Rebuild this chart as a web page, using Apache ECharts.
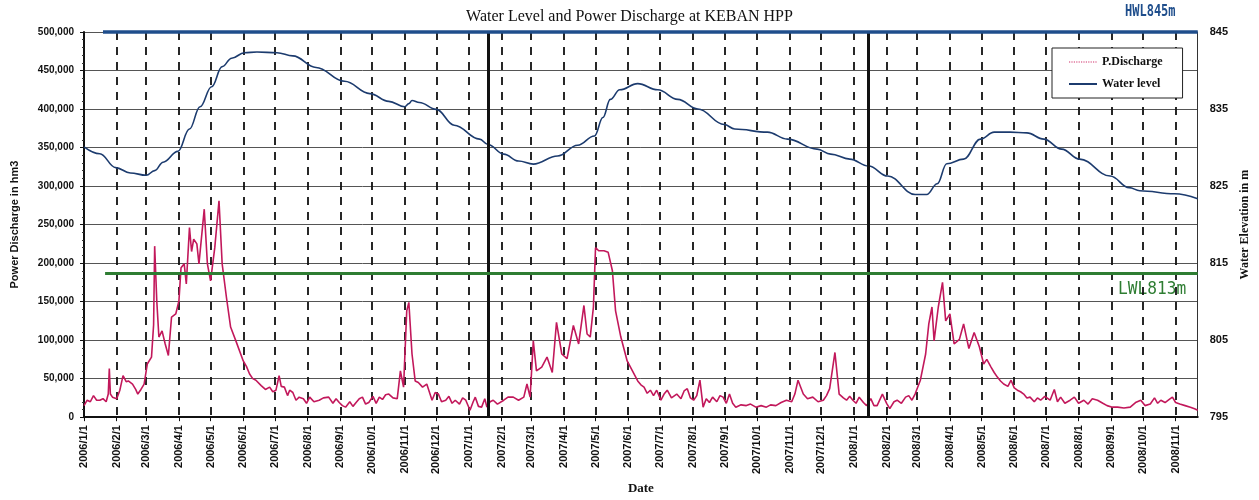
<!DOCTYPE html>
<html>
<head>
<meta charset="utf-8">
<script src="https://cdn.jsdelivr.net/npm/echarts@6/dist/echarts.min.js"></script>
<style>html,body{margin:0;padding:0;background:#fff;}#main{width:1259px;height:500px;}</style>
</head>
<body>
<div id="main"></div>
<script>
// ---- data ----
const startDate = '2006/1/1';
const endDate = '2008/11/22';
const leftTicks = [0, 50000, 100000, 150000, 200000, 250000, 300000, 350000, 400000, 450000, 500000];
const rightTicks = [795, 805, 815, 825, 835, 845];
const yearMarks = ['2007/1/19', '2008/1/15'];
const hwlLevel = 845;
const lwlLevel = 813.7;
const refLineStart = ['2006/1/19', '2006/1/21'];

const waterDates = ['2006/1/1','2006/1/16','2006/1/31','2006/2/14','2006/3/1','2006/3/9','2006/3/17','2006/3/31','2006/4/11','2006/4/21','2006/5/2','2006/5/12','2006/5/21','2006/6/2','2006/6/14','2006/7/3','2006/7/18','2006/8/9','2006/9/5','2006/9/29','2006/10/17','2006/11/1','2006/11/5','2006/11/8','2006/11/15','2006/12/1','2006/12/18','2007/1/11','2007/1/19','2007/2/3','2007/2/17','2007/3/3','2007/3/26','2007/4/14','2007/4/30','2007/5/8','2007/5/15','2007/5/24','2007/6/10','2007/6/29','2007/7/18','2007/8/6','2007/8/31','2007/9/10','2007/10/11','2007/10/30','2007/11/27','2007/12/10','2007/12/28','2008/1/15','2008/2/2','2008/2/28','2008/3/10','2008/3/20','2008/3/29','2008/4/14','2008/4/30','2008/5/13','2008/5/28','2008/6/13','2008/6/29','2008/7/16','2008/8/2','2008/8/31','2008/9/18','2008/9/28','2008/10/31','2008/11/22'];
const waterLevel = [830.1,829.2,827.4,826.7,826.4,827.0,828.1,829.5,832.4,835.3,837.9,840.5,841.6,842.3,842.4,842.3,841.9,840.4,838.6,837.0,836.0,835.3,835.7,836.1,835.85,834.95,832.9,831.1,830.4,829.15,828.25,827.85,828.9,830.3,831.5,833.9,836.25,837.5,838.3,837.5,836.25,835.0,833.0,832.4,832.0,831.1,829.8,829.15,828.5,827.6,826.3,823.9,823.9,825.3,827.9,828.5,831.1,832.0,832.0,831.9,831.1,829.8,828.5,826.3,824.8,824.4,824.0,823.35];

const dischargeDates = ['2006/1/1','2006/1/4','2006/1/7','2006/1/10','2006/1/13','2006/1/16','2006/1/19','2006/1/22','2006/1/24','2006/1/25','2006/1/26','2006/1/28','2006/2/1','2006/2/4','2006/2/7','2006/2/10','2006/2/12','2006/2/16','2006/2/19','2006/2/21','2006/2/24','2006/2/27','2006/3/2','2006/3/6','2006/3/8','2006/3/9','2006/3/11','2006/3/13','2006/3/16','2006/3/19','2006/3/22','2006/3/25','2006/3/29','2006/4/1','2006/4/3','2006/4/6','2006/4/8','2006/4/11','2006/4/13','2006/4/15','2006/4/18','2006/4/20','2006/4/25','2006/4/28','2006/5/1','2006/5/5','2006/5/9','2006/5/12','2006/5/16','2006/5/20','2006/5/25','2006/6/1','2006/6/4','2006/6/7','2006/6/10','2006/6/13','2006/6/18','2006/6/22','2006/6/26','2006/6/29','2006/7/2','2006/7/5','2006/7/7','2006/7/10','2006/7/13','2006/7/15','2006/7/18','2006/7/21','2006/7/24','2006/7/28','2006/7/31','2006/8/3','2006/8/7','2006/8/12','2006/8/16','2006/8/21','2006/8/25','2006/8/28','2006/8/31','2006/9/3','2006/9/6','2006/9/10','2006/9/13','2006/9/16','2006/9/19','2006/9/22','2006/9/25','2006/9/28','2006/10/2','2006/10/5','2006/10/8','2006/10/11','2006/10/14','2006/10/17','2006/10/21','2006/10/25','2006/10/28','2006/10/31','2006/11/3','2006/11/5','2006/11/8','2006/11/11','2006/11/14','2006/11/18','2006/11/22','2006/11/27','2006/11/30','2006/12/3','2006/12/6','2006/12/10','2006/12/13','2006/12/16','2006/12/19','2006/12/23','2006/12/26','2006/12/29','2007/1/2','2007/1/5','2007/1/7','2007/1/10','2007/1/13','2007/1/16','2007/1/18','2007/1/21','2007/1/24','2007/1/28','2007/2/3','2007/2/7','2007/2/12','2007/2/17','2007/2/22','2007/2/25','2007/2/28','2007/3/3','2007/3/6','2007/3/11','2007/3/16','2007/3/21','2007/3/25','2007/3/30','2007/4/4','2007/4/10','2007/4/15','2007/4/20','2007/4/23','2007/4/26','2007/4/29','2007/5/1','2007/5/4','2007/5/9','2007/5/13','2007/5/17','2007/5/20','2007/5/25','2007/5/31','2007/6/5','2007/6/10','2007/6/13','2007/6/16','2007/6/19','2007/6/22','2007/6/25','2007/6/28','2007/7/2','2007/7/5','2007/7/8','2007/7/12','2007/7/17','2007/7/21','2007/7/24','2007/7/27','2007/7/30','2007/8/2','2007/8/5','2007/8/8','2007/8/11','2007/8/14','2007/8/17','2007/8/20','2007/8/24','2007/8/27','2007/8/30','2007/9/2','2007/9/5','2007/9/8','2007/9/11','2007/9/16','2007/9/21','2007/9/25','2007/9/30','2007/10/5','2007/10/10','2007/10/14','2007/10/19','2007/10/24','2007/10/29','2007/11/3','2007/11/6','2007/11/9','2007/11/14','2007/11/18','2007/11/23','2007/11/28','2007/12/3','2007/12/6','2007/12/9','2007/12/14','2007/12/18','2007/12/22','2007/12/25','2007/12/28','2007/12/31','2008/1/3','2008/1/6','2008/1/10','2008/1/13','2008/1/17','2008/1/20','2008/1/23','2008/1/28','2008/2/1','2008/2/4','2008/2/8','2008/2/11','2008/2/15','2008/2/19','2008/2/22','2008/2/25','2008/2/28','2008/3/4','2008/3/9','2008/3/12','2008/3/15','2008/3/17','2008/3/21','2008/3/25','2008/3/28','2008/4/1','2008/4/5','2008/4/10','2008/4/14','2008/4/19','2008/4/24','2008/4/29','2008/5/3','2008/5/6','2008/5/10','2008/5/13','2008/5/16','2008/5/19','2008/5/22','2008/5/26','2008/5/29','2008/6/1','2008/6/4','2008/6/7','2008/6/10','2008/6/13','2008/6/16','2008/6/20','2008/6/23','2008/6/26','2008/6/30','2008/7/5','2008/7/9','2008/7/12','2008/7/15','2008/7/19','2008/7/24','2008/7/28','2008/8/1','2008/8/6','2008/8/10','2008/8/14','2008/8/19','2008/8/24','2008/8/28','2008/9/2','2008/9/7','2008/9/13','2008/9/19','2008/9/24','2008/9/29','2008/10/3','2008/10/8','2008/10/12','2008/10/15','2008/10/18','2008/10/22','2008/10/26','2008/10/29','2008/11/1','2008/11/5','2008/11/10','2008/11/15','2008/11/19','2008/11/22'];
const discharge = [15000,22000,20000,28000,22000,22000,24000,20000,30000,63000,30000,26000,24000,35000,54000,46000,47000,43000,36000,30000,36000,43000,69000,78000,120000,222000,151000,104000,112000,95000,80000,130000,134000,151000,194000,199000,173000,246000,215000,231000,225000,199000,270000,199000,177000,220000,281000,199000,156000,117000,99000,73000,66000,56000,50000,48000,41000,36000,39000,33000,35000,54000,40000,39000,28000,35000,32000,22000,26000,24000,18000,26000,20000,22000,25000,26000,18000,24000,19000,15000,13000,20000,14000,19000,24000,26000,17000,19000,27000,18000,26000,23000,29000,30000,25000,24000,60000,39000,138000,149000,82000,47000,45000,39000,43000,22000,32000,30000,20000,22000,27000,18000,22000,17000,25000,22000,9000,20000,26000,14000,13000,24000,13000,20000,22000,17000,22000,26000,26000,22000,26000,43000,26000,99000,60000,65000,78000,58000,123000,82000,76000,119000,95000,145000,108000,104000,143000,220000,216000,216000,214000,190000,138000,104000,73000,60000,47000,42000,39000,31000,35000,28000,35000,22000,30000,35000,25000,30000,24000,34000,37000,25000,22000,28000,48000,13000,24000,19000,26000,20000,28000,26000,18000,30000,18000,13000,16000,15000,17000,13000,15000,13000,16000,15000,19000,22000,20000,30000,48000,30000,24000,26000,20000,22000,28000,37000,84000,30000,25000,22000,27000,22000,18000,26000,19000,15000,24000,15000,15000,30000,18000,11000,20000,22000,18000,26000,28000,22000,30000,48000,82000,121000,143000,99000,143000,175000,125000,134000,95000,101000,121000,89000,110000,91000,69000,75000,65000,58000,52000,47000,43000,40000,48000,38000,35000,33000,30000,25000,26000,20000,25000,22000,27000,22000,36000,20000,26000,18000,22000,26000,18000,22000,17000,24000,22000,18000,15000,13000,13000,12000,13000,19000,22000,15000,17000,25000,18000,22000,19000,23000,26000,19000,17000,15000,13000,11000,9000];

// ---- daily category axis ----
function parseD(s){const p=s.split('/').map(Number);return Date.UTC(p[0],p[1]-1,p[2]);}
function fmtD(t){const d=new Date(t);return d.getUTCFullYear()+'/'+(d.getUTCMonth()+1)+'/'+d.getUTCDate();}
const categories = [];
for (let t = parseD(startDate); t <= parseD(endDate); t += 86400000) categories.push(fmtD(t));
const isMonthStart = v => v.split('/')[2] === '1';

const waterData = waterDates.map((d, i) => [d, waterLevel[i]]);
const dischargeData = dischargeDates.map((d, i) => [d, discharge[i]]);

const chart = echarts.init(document.getElementById('main'), null, {renderer: 'canvas'});
const sans = 'Liberation Sans';
const serif = 'Liberation Serif';
chart.setOption({
  animation: false,
  backgroundColor: '#fff',
  title: {
    text: 'Water Level and Power Discharge at KEBAN HPP',
    left: 'center', top: 4,
    textStyle: {fontFamily: serif, fontSize: 16, fontWeight: 'normal', color: '#111'}
  },
  grid: {left: 84, right: 58, top: 32, bottom: 80},
  legend: {
    orient: 'vertical', left: 1052, top: 48,
    backgroundColor: '#fff', borderColor: '#222', borderWidth: 1,
    padding: [8, 20, 8, 16], itemGap: 10, itemWidth: 28, itemHeight: 12,
    textStyle: {fontFamily: serif, fontWeight: 'bold', fontSize: 12, color: '#111'},
    data: [
      {name: 'P.Discharge', itemStyle: {opacity: 0}, lineStyle: {type: 'dotted', width: 1.2, color: '#d0306a'}},
      {name: 'Water level', itemStyle: {opacity: 0}, lineStyle: {width: 2}}
    ]
  },
  xAxis: {
    type: 'category', data: categories, boundaryGap: false,
    name: 'Date', nameLocation: 'middle', nameGap: 64,
    nameTextStyle: {fontFamily: serif, fontWeight: 'bold', fontSize: 13, color: '#111'},
    axisLine: {lineStyle: {color: '#111', width: 2}},
    axisTick: {show: true, interval: (i, v) => isMonthStart(v), length: 4, lineStyle: {color: '#111'}},
    axisLabel: {
      interval: (i, v) => isMonthStart(v), rotate: 90, margin: 8,
      fontFamily: sans, fontWeight: 'bold', fontSize: 11, color: '#111'
    },
    splitLine: {
      show: true, interval: (i, v) => isMonthStart(v) && i > 0,
      lineStyle: {color: '#111', type: [8, 7], width: 1.8}
    }
  },
  yAxis: [
    {
      type: 'value', min: 0, max: 500000, interval: 50000,
      name: 'Power Discharge in hm3', nameLocation: 'middle', nameGap: 64, nameRotate: 90,
      nameTextStyle: {fontFamily: sans, fontWeight: 'bold', fontSize: 11, color: '#111'},
      axisLine: {show: true, lineStyle: {color: '#111', width: 2}},
      axisTick: {show: true, length: 4, lineStyle: {color: '#111'}},
      minorTick: {show: true, splitNumber: 5, length: 2, lineStyle: {color: '#333'}},
      axisLabel: {fontFamily: sans, fontWeight: 'bold', fontSize: 10, color: '#111', margin: 10,
        formatter: v => v.toLocaleString('en-US')},
      splitLine: {show: true, lineStyle: {color: '#555', width: 1}}
    },
    {
      type: 'value', min: 795, max: 845, interval: 10, position: 'right',
      name: 'Water Elevation in m', nameLocation: 'middle', nameGap: 40, nameRotate: 90,
      nameTextStyle: {fontFamily: serif, fontWeight: 'bold', fontSize: 12, color: '#111'},
      axisLine: {show: true, lineStyle: {color: '#333', width: 1}},
      axisTick: {show: false},
      axisLabel: {fontFamily: sans, fontWeight: 'bold', fontSize: 11, color: '#111', margin: 12},
      splitLine: {show: false}
    }
  ],
  graphic: [
    {type: 'text', left: 1125, top: 4, style: {text: 'HWL845m', fill: '#1f4e8c', font: 'bold 16px "DejaVu Sans Mono"'}, scaleX: 0.75},
    {type: 'text', left: 1118, top: 280, style: {text: 'LWL813m', fill: '#2e7d32', font: '18px "DejaVu Sans Mono"'}, scaleX: 0.9}
  ],
  series: [
    {
      name: 'P.Discharge', type: 'line', yAxisIndex: 0, symbol: 'none',
      data: dischargeData,
      lineStyle: {color: '#c2185b', width: 1.6},
      itemStyle: {color: '#c2185b'},
      z: 3,
      markLine: {
        silent: true, symbol: 'none', label: {show: false},
        lineStyle: {color: '#111', width: 3, type: 'solid'},
        data: yearMarks.map(d => ({xAxis: d}))
      }
    },
    {
      name: 'Water level', type: 'line', yAxisIndex: 1, symbol: 'none',
      data: waterData, smooth: 0.4, smoothMonotone: 'x',
      lineStyle: {color: '#1c3b6e', width: 1.6},
      itemStyle: {color: '#1c3b6e'},
      z: 4,
      markLine: {
        silent: true, symbol: 'none', label: {show: false},
        data: [
          [{coord: [refLineStart[0], hwlLevel], lineStyle: {color: '#1f4e8c', width: 3.5, type: 'solid'}}, {coord: [endDate, hwlLevel]}],
          [{coord: [refLineStart[1], lwlLevel], lineStyle: {color: '#2e7d32', width: 3, type: 'solid'}}, {coord: [endDate, lwlLevel]}]
        ]
      }
    }
  ]
});
</script>
</body>
</html>
